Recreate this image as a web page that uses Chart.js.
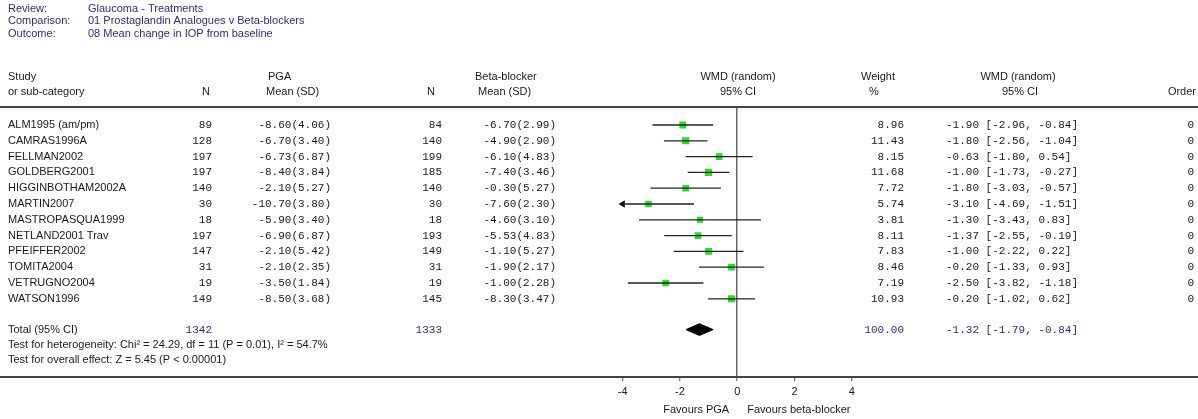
<!DOCTYPE html>
<html>
<head>
<meta charset="utf-8">
<script src="https://cdn.jsdelivr.net/npm/chart.js@4.4.0/dist/chart.umd.min.js"></script>
<style>
  html, body { margin: 0; padding: 0; background: #fff; }
  #wrap { position: relative; width: 1198px; height: 419px; }
</style>
</head>
<body>
<div id="wrap"><canvas id="forest" width="1198" height="419"></canvas></div>
<script>
// study data
const studies = ["ALM1995 (am/pm)", "CAMRAS1996A", "FELLMAN2002", "GOLDBERG2001", "HIGGINBOTHAM2002A",
  "MARTIN2007", "MASTROPASQUA1999", "NETLAND2001 Trav", "PFEIFFER2002", "TOMITA2004", "VETRUGNO2004", "WATSON1996"];
const nPGA = [89, 128, 197, 197, 140, 30, 18, 197, 147, 31, 19, 149];
const meanPGA = [-8.60, -6.70, -6.73, -8.40, -2.10, -10.70, -5.90, -6.90, -2.10, -2.10, -3.50, -8.50];
const sdPGA = [4.06, 3.40, 6.87, 3.84, 5.27, 3.80, 3.40, 6.87, 5.42, 2.35, 1.84, 3.68];
const nBB = [84, 140, 199, 185, 140, 30, 18, 193, 149, 31, 19, 145];
const meanBB = [-6.70, -4.90, -6.10, -7.40, -0.30, -7.60, -4.60, -5.53, -1.10, -1.90, -1.00, -8.30];
const sdBB = [2.99, 2.90, 4.83, 3.46, 5.27, 2.30, 3.10, 4.83, 5.27, 2.17, 2.28, 3.47];
const weight = [8.96, 11.43, 8.15, 11.68, 7.72, 5.74, 3.81, 8.11, 7.83, 8.46, 7.19, 10.93];
const wmd = [-1.90, -1.80, -0.63, -1.00, -1.80, -3.10, -1.30, -1.37, -1.00, -0.20, -2.50, -0.20];
const ciLow = [-2.96, -2.56, -1.80, -1.73, -3.03, -4.69, -3.43, -2.55, -2.22, -1.33, -3.82, -1.02];
const ciHigh = [-0.84, -1.04, 0.54, -0.27, -0.57, -1.51, 0.83, -0.19, 0.22, 0.93, -1.18, 0.62];
const order = [0, 0, 0, 0, 0, 0, 0, 0, 0, 0, 0, 0];

const totalN = [1342, 1333];
const totalWeight = 100.00;
const totalWmd = -1.32;
const totalCi = [-1.79, -0.84];
const heterogeneity = "Test for heterogeneity: Chi\u00b2 = 24.29, df = 11 (P = 0.01), I\u00b2 = 54.7%";
const overallEffect = "Test for overall effect: Z = 5.45 (P < 0.00001)";

const xTicks = [-4, -2, 0, 2, 4];
const titleLabels = ["Review:", "Comparison:", "Outcome:"];
const titleValues = ["Glaucoma - Treatments", "01 Prostaglandin Analogues v Beta-blockers", "08 Mean change in IOP from baseline"];

// layout
const W = 1198;
const X_MIN = -4, X_MAX = 4;
const TOTAL_ROW = 12.95;
const SANS = "11px 'Liberation Sans', Arial, sans-serif";
const MONO = "11px 'Liberation Mono', 'Courier New', monospace";
const NAVY = "#2c2c86";
const TEXT = "#1a1a1a";

const rows = studies.map((_, i) => i);

const ciSets = rows.map(i => ({
  data: [{ x: ciLow[i], y: i }, { x: ciHigh[i], y: i }],
  showLine: true, borderColor: "#222", borderWidth: 1.3, pointRadius: 0, tension: 0
}));

const squares = {
  data: rows.map(i => ({ x: wmd[i], y: i })),
  pointStyle: "rect",
  pointRadius: rows.map(i => 4 + weight[i] * 0.09),
  backgroundColor: "#22e022", borderColor: "#22e022", borderWidth: 0
};

// arrows where the CI runs past the axis range
const arrows = {
  data: rows.filter(i => ciLow[i] < X_MIN).map(i => ({ x: X_MIN, y: i })),
  pointStyle: "triangle", rotation: -90, pointRadius: 4.2,
  backgroundColor: "#111", borderColor: "#111", borderWidth: 0, clip: false
};

const dh = 0.37;
const diamond = {
  data: [
    { x: totalCi[0], y: TOTAL_ROW }, { x: totalWmd, y: TOTAL_ROW - dh },
    { x: totalCi[1], y: TOTAL_ROW }, { x: totalWmd, y: TOTAL_ROW + dh },
    { x: totalCi[0], y: TOTAL_ROW }
  ],
  showLine: true, fill: "shape", backgroundColor: "#000", borderColor: "#000",
  borderWidth: 1, pointRadius: 0, tension: 0
};

function txt(ctx, s, x, y, align, font, color) {
  ctx.font = font;
  ctx.fillStyle = color || TEXT;
  ctx.textAlign = align;
  ctx.textBaseline = "middle";
  ctx.fillText(s, x, y);
}

const tablePlugin = {
  id: "table",
  afterDraw(chart) {
    const ctx = chart.ctx;
    const ys = chart.scales.y;
    const area = chart.chartArea;
    ctx.save();

    // title block
    titleLabels.forEach((l, k) => {
      txt(ctx, l, 8, 9 + k * 12.4, "left", SANS, NAVY);
      txt(ctx, titleValues[k], 88, 9 + k * 12.4, "left", SANS, NAVY);
    });

    // column headers
    const h1 = 77, h2 = 92;
    txt(ctx, "Study", 8, h1, "left", SANS);
    txt(ctx, "or sub-category", 8, h2, "left", SANS);
    txt(ctx, "N", 206, h2, "center", SANS);
    txt(ctx, "PGA", 268, h1, "left", SANS);
    txt(ctx, "Mean (SD)", 266, h2, "left", SANS);
    txt(ctx, "N", 431, h2, "center", SANS);
    txt(ctx, "Beta-blocker", 475, h1, "left", SANS);
    txt(ctx, "Mean (SD)", 478, h2, "left", SANS);
    txt(ctx, "WMD (random)", 738, h1, "center", SANS);
    txt(ctx, "95% CI", 738, h2, "center", SANS);
    txt(ctx, "Weight", 878, h1, "center", SANS);
    txt(ctx, "%", 874, h2, "center", SANS);
    txt(ctx, "WMD (random)", 1018, h1, "center", SANS);
    txt(ctx, "95% CI", 1020, h2, "center", SANS);
    txt(ctx, "Order", 1196, h2, "right", SANS);

    // rule lines
    ctx.strokeStyle = "#444";
    ctx.lineWidth = 2;
    ctx.beginPath();
    ctx.moveTo(0, area.top); ctx.lineTo(W, area.top);
    ctx.moveTo(0, area.bottom); ctx.lineTo(W, area.bottom);
    ctx.stroke();

    // study rows
    rows.forEach(i => {
      const y = ys.getPixelForValue(i);
      txt(ctx, studies[i], 8, y, "left", SANS);
      txt(ctx, String(nPGA[i]), 212, y, "right", MONO);
      txt(ctx, meanPGA[i].toFixed(2) + "(" + sdPGA[i].toFixed(2) + ")", 331, y, "right", MONO);
      txt(ctx, String(nBB[i]), 442, y, "right", MONO);
      txt(ctx, meanBB[i].toFixed(2) + "(" + sdBB[i].toFixed(2) + ")", 556, y, "right", MONO);
      txt(ctx, weight[i].toFixed(2), 904, y, "right", MONO);
      txt(ctx, wmd[i].toFixed(2) + " [" + ciLow[i].toFixed(2) + ", " + ciHigh[i].toFixed(2) + "]", 946, y, "left", MONO);
      txt(ctx, String(order[i]), 1194, y, "right", MONO);
    });

    // total + tests
    const yt = ys.getPixelForValue(TOTAL_ROW);
    txt(ctx, "Total (95% CI)", 8, yt, "left", SANS);
    txt(ctx, String(totalN[0]), 212, yt, "right", MONO, NAVY);
    txt(ctx, String(totalN[1]), 442, yt, "right", MONO, NAVY);
    txt(ctx, totalWeight.toFixed(2), 904, yt, "right", MONO, NAVY);
    txt(ctx, totalWmd.toFixed(2) + " [" + totalCi[0].toFixed(2) + ", " + totalCi[1].toFixed(2) + "]", 946, yt, "left", MONO, NAVY);
    txt(ctx, heterogeneity, 8, ys.getPixelForValue(13.9), "left", SANS);
    txt(ctx, overallEffect, 8, ys.getPixelForValue(14.9), "left", SANS);

    // favours labels
    const x0 = chart.scales.x.getPixelForValue(0);
    txt(ctx, "Favours PGA", x0 - 8, 410, "right", SANS);
    txt(ctx, "Favours beta-blocker", x0 + 10, 410, "left", SANS);
    ctx.restore();
  }
};

const ctx = document.getElementById("forest").getContext("2d");
new Chart(ctx, {
  type: "scatter",
  data: { datasets: [...ciSets, squares, arrows, diamond] },
  options: {
    responsive: false,
    animation: false,
    layout: { padding: { left: 622.7, right: W - 851.7, top: 107, bottom: 0 } },
    plugins: { legend: { display: false }, tooltip: { enabled: false } },
    scales: {
      x: {
        min: X_MIN, max: X_MAX,
        afterBuildTicks: s => { s.ticks = xTicks.map(v => ({ value: v })); },
        afterFit: s => { s.height = 42; },
        ticks: { color: "#222", font: { family: "'Liberation Sans', Arial", size: 11 }, padding: 4 },
        grid: {
          color: c => (c.tick && c.tick.value === 0 ? "#666" : "rgba(0,0,0,0)"),
          lineWidth: 1.5, tickLength: 4, tickColor: "#555", tickWidth: 1
        },
        border: { display: true, color: "#444", width: 2 }
      },
      y: { display: false, reverse: true, min: -1.14, max: 15.95 }
    }
  },
  plugins: [tablePlugin]
});
</script>
</body>
</html>
